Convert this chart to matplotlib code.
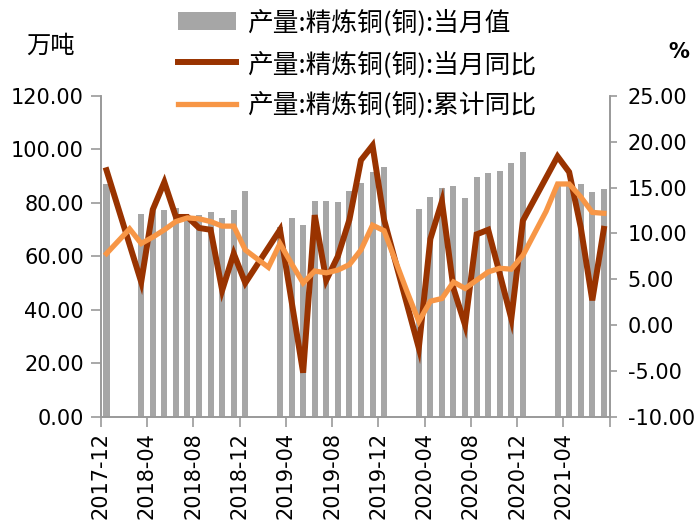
import matplotlib
matplotlib.use("Agg")
import matplotlib.pyplot as plt
import matplotlib.transforms as mtransforms
import numpy as np
import pandas as pd

plt.rcParams['font.family'] = ['DejaVu Sans', 'Noto Sans CJK SC']
cjk = ['Noto Sans CJK SC', 'DejaVu Sans']

### Data (monthly, 2017-12 .. 2021-07); nan = not published
months = [p.strftime("%Y-%m") for p in pd.period_range("2017-12", "2021-07", freq="M")]

output = [87.0, np.nan, np.nan, 75.9, 77.8, 77.4, 78.0, 75.5, 75.5, 76.7, 74.2, 77.4, 84.5,
          np.nan, np.nan, 71.0, 74.5, 71.7, 80.8, 80.6, 80.4, 84.3, 87.3, 91.5, 93.6,
          np.nan, np.nan, 77.6, 82.3, 85.7, 86.3, 81.8, 89.7, 91.3, 92.0, 94.9, 99.2,
          np.nan, np.nan, 86.3, 87.5, 87.1, 84.2, 85.1]

yoy_month = [16.9, np.nan, np.nan, 4.7, 12.6, 15.6, 11.8, 11.8, 10.6, 10.4, 3.8, 7.8, 4.6,
             np.nan, np.nan, 10.4, 2.6, -5.2, 12.0, 4.9, 7.5, 11.5, 18.0, 19.6, 11.5,
             np.nan, np.nan, -2.5, 9.4, 13.5, 4.0, 0.0, 9.9, 10.4, 5.6, 0.7, 11.4,
             np.nan, np.nan, 18.4, 16.7, 10.7, 2.7, 10.5]

yoy_cum = [7.8, np.nan, 10.5, 8.9, 9.6, 10.4, 11.3, 11.7, 11.6, 11.3, 10.8, 10.8, 8.2,
           np.nan, 6.3, 8.9, 6.7, 4.6, 5.9, 5.7, 6.0, 6.6, 8.2, 10.9, 10.3,
           np.nan, 3.6, 0.4, 2.6, 2.9, 4.7, 4.0, 4.9, 5.8, 6.2, 6.1, 7.6,
           np.nan, 12.4, 15.4, 15.4, 14.0, 12.3, 12.2]

labels = ["产量:精炼铜(铜):当月值", "产量:精炼铜(铜):当月同比", "产量:精炼铜(铜):累计同比"]

c_bar = "#a6a6a6"
c_m = "#993300"
c_c = "#f79646"
c_ax = "#999999"

fig = plt.figure(figsize=(6.98, 5.25), dpi=100)
ax = fig.add_axes([0.1443, 0.2063, 0.7291, 0.6108])
ax2 = ax.twinx()

x = np.arange(len(months))
b = ax.bar(x, output, width=0.52, color=c_bar, label=labels[0])

def plot_gapless(ax, y, **kw):
    """connect across missing months"""
    y = np.asarray(y, dtype=float)
    ok = ~np.isnan(y)
    return ax.plot(x[ok], y[ok], solid_joinstyle="miter", **kw)[0]

l1 = plot_gapless(ax2, yoy_month, color=c_m, lw=4.3, label=labels[1])
l2 = plot_gapless(ax2, yoy_cum, color=c_c, lw=3.8, label=labels[2])

ax.set_xlim(-0.5, len(months) - 0.5)
ax.set_ylim(0, 120)
ax.set_yticks(np.arange(0, 121, 20))
ax.set_yticklabels([f"{v:.2f}" for v in np.arange(0, 121, 20)])
ax2.set_ylim(-10, 25)
ax2.set_yticks(np.arange(-10, 26, 5))
ax2.set_yticklabels([f"{v:.2f}" for v in np.arange(-10, 26, 5)])

ticks = np.arange(-0.5, len(months), 4)
ax.set_xticks(ticks)
ax.set_xticklabels([months[int(t + 0.5)] if t + 0.5 < 41 else "" for t in ticks],
                   rotation=90, va="top", ha="center")
off = mtransforms.ScaledTranslation(4 / 100, 0, fig.dpi_scale_trans)
for t in ax.get_xticklabels():
    t.set_transform(t.get_transform() + off)

for a in (ax, ax2):
    a.spines["top"].set_visible(False)
    for s in ("left", "right", "bottom"):
        a.spines[s].set_color(c_ax)
        a.spines[s].set_linewidth(1.2)
ax.tick_params(axis="y", direction="out", length=7, width=1.2, color=c_ax, pad=5, labelsize=15)
ax.tick_params(axis="x", direction="out", length=7, width=1.2, color=c_ax, pad=4, labelsize=15)
ax2.tick_params(axis="y", direction="out", length=5, width=1.2, color=c_ax, pad=8, labelsize=15)

fig.text(0.072, 0.912, "万吨", fontsize=17.5, family=cjk, ha="center", va="center")
fig.text(0.972, 0.90, "%", fontsize=15, fontweight="bold", ha="center", va="center")

fig.legend([b, l1, l2], labels, loc="upper left", bbox_to_anchor=(0.252, 0.988),
           frameon=False, prop={"family": cjk, "size": 18.5}, handlelength=2.25,
           handleheight=0.74, handletextpad=0.4, labelspacing=0.58,
           borderpad=0.1, borderaxespad=0)

fig.savefig("out.png", dpi=100)
